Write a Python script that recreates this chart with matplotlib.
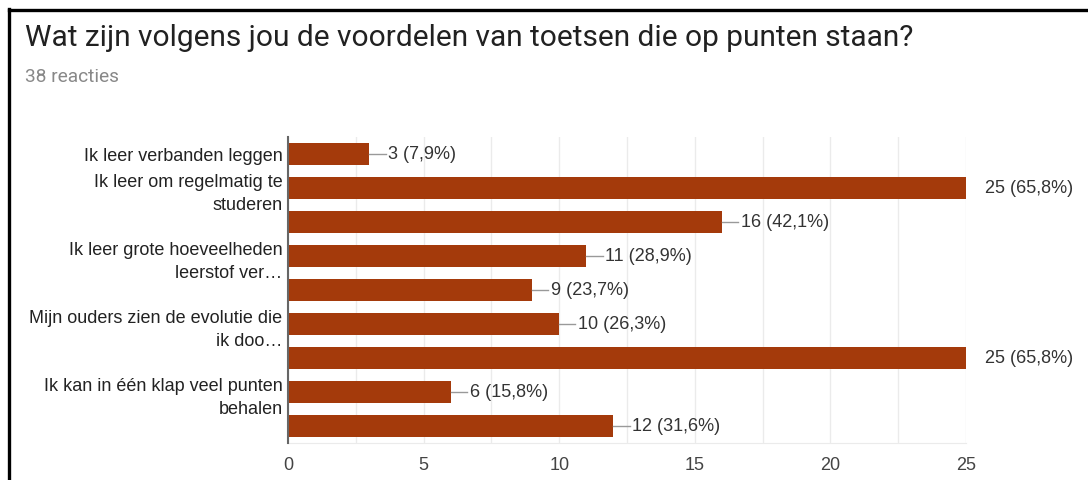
import matplotlib
matplotlib.use("Agg")
import matplotlib.pyplot as plt
from matplotlib.lines import Line2D
from matplotlib.ticker import MultipleLocator

# antwoorden op de vraag (38 reacties)
labels = [
    "Ik leer verbanden leggen",
    "Ik leer om regelmatig te\nstuderen",
    "",
    "Ik leer grote hoeveelheden\nleerstof ver\u2026",
    "",
    "Mijn ouders zien de evolutie die\nik doo\u2026",
    "",
    "Ik kan in \u00e9\u00e9n klap veel punten\nbehalen",
    "",
]
counts = [3, 25, 16, 11, 9, 10, 25, 6, 12]
n_resp = 38
title = "Wat zijn volgens jou de voordelen van toetsen die op punten staan?"
subtitle = "38 reacties"

W, H = 1088, 481
fig = plt.figure(figsize=(W / 100, H / 100), dpi=100)
fig.patch.set_facecolor("white")

# frame links en boven
fig.add_artist(Line2D([9 / W, 9 / W], [0, 1 - 10 / H], color="black", lw=2.4,
                      transform=fig.transFigure))
fig.add_artist(Line2D([9 / W, 1], [1 - 11 / H, 1 - 11 / H], color="black", lw=2.4,
                      transform=fig.transFigure))

fig.text(25 / W, 1 - 38 / H, title, fontsize=21.5, family="Roboto",
         color="#212121", va="center", ha="left")
fig.text(25 / W, 1 - 77 / H, subtitle, fontsize=13.8, family="Roboto",
         color="#888888", va="center", ha="left")

left, right, top, bottom = 288, 966, 138, 444
ax = fig.add_axes([left / W, 1 - bottom / H, (right - left) / W, (bottom - top) / H])

ypos = list(range(len(counts)))
ax.barh(ypos, counts, height=0.65, color="#a43a0b", zorder=3)
ax.set_ylim(len(counts) - 0.5, -0.5)
ax.set_xlim(0, 25)

ax.xaxis.set_major_locator(MultipleLocator(5))
ax.xaxis.set_minor_locator(MultipleLocator(2.5))
ax.grid(axis="x", which="both", color="#ebebeb", lw=1, zorder=0)
ax.set_yticks(ypos)
ax.set_yticklabels(labels, fontsize=13, family="Liberation Sans", color="#222222",
                   linespacing=1.45)
ax.tick_params(axis="y", length=0, pad=4)
ax.tick_params(axis="x", which="both", length=0, pad=9, labelsize=13,
               labelcolor="#444444")
for lab in ax.get_xticklabels():
    lab.set_family("Liberation Sans")

for s in ["top", "right"]:
    ax.spines[s].set_visible(False)
ax.spines["bottom"].set_color("#ebebeb")
ax.spines["left"].set_color("#666666")
ax.spines["left"].set_linewidth(1.5)
ax.spines["left"].set_zorder(4)

for y, c in zip(ypos, counts):
    pct = f"{c / n_resp * 100:.1f}".replace(".", ",")
    if c < max(counts):
        ax.plot([c, c + 0.6], [y, y], color="#999999", lw=1, zorder=3, clip_on=False)
    ax.annotate(f"{c} ({pct}%)", xy=(c, y), xytext=(19, 0), textcoords="offset pixels",
                va="center", ha="left", fontsize=13, family="Liberation Sans",
                color="#333333", annotation_clip=False)

fig.savefig("out.png", dpi=100)
